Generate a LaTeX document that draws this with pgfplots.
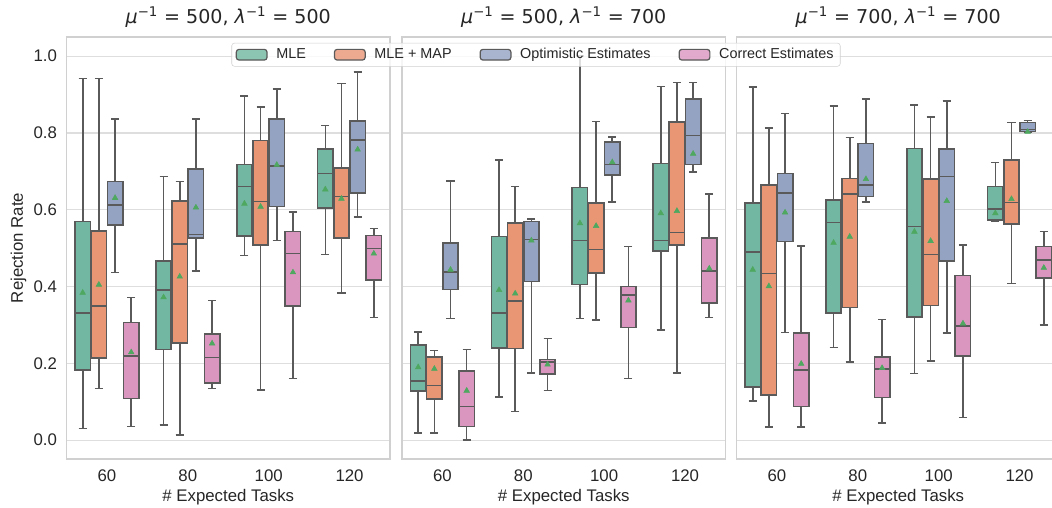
\documentclass[border=0pt]{standalone}
\usepackage{pgfplots}
\pgfplotsset{compat=1.18}
\usepgfplotslibrary{statistics}
\usepackage{fontspec}
\setmainfont{Liberation Sans}
\newfontfamily\dejavu{DejaVu Sans}

\definecolor{cg}{HTML}{71B7A1}
\definecolor{co}{HTML}{E99675}
\definecolor{cb}{HTML}{95A3C3}
\definecolor{cp}{HTML}{DB96C0}
\definecolor{lc}{HTML}{5A5A5A}
\definecolor{mc}{HTML}{4EA85F}
\definecolor{fc}{HTML}{D0D0D0}
\definecolor{gc}{HTML}{DEDEDE}
\definecolor{tc}{HTML}{262626}

\pgfplotsset{
 panel/.style={
   scale only axis, width=242.6pt, height=316.5pt, anchor=south west,
   xmin=-0.5, xmax=3.5, ymin=-0.049, ymax=1.05,
   xtick={0,1,2,3}, xticklabels={60,80,100,120},
   ytick={0,0.2,0.4,0.6,0.8,1},
   major tick length=0pt,
   ymajorgrids, grid style={gc, line width=0.8pt},
   axis line style={fc, line width=0.9pt},
   tick label style={font=\fontsize{12.6}{14}\selectfont, text=tc},
   xticklabel style={anchor=base, yshift=-17pt},
   yticklabel style={anchor=east, inner sep=0pt, xshift=-7pt},
   label style={font=\fontsize{12.6}{14}\selectfont, text=tc},
   xlabel style={at={(axis description cs:0.5,0)}, anchor=base, yshift=-31.5pt},
   ylabel style={at={(axis description cs:0,0.5)}, anchor=center, yshift=36pt},
   /pgf/number format/assume math mode=true,
   /pgf/number format/fixed, /pgf/number format/fixed zerofill, /pgf/number format/precision=1,
   xlabel={\# Expected Tasks},
   title style={at={(axis description cs:0.5,1)}, anchor=base, yshift=4.2pt, font=\dejavu\fontsize{14.3}{17}\selectfont, text=tc},
 },
 bx/.style={draw=lc, line width=1.2pt, solid, mark=none, forget plot},
 mn/.style={only marks, mark=triangle*, mark size=2.4pt, color=mc, forget plot},
}
\newcommand{\bx}[7]{\addplot[bx, fill=#2, boxplot prepared={draw direction=y, draw position=#1, lower whisker=#3, lower quartile=#4, median=#5, upper quartile=#6, upper whisker=#7, box extend=0.19, whisker extend=0.1, every box/.style={fill=#2, draw=lc, line width=1.2pt}, every whisker/.style={draw=lc, line width=1.2pt}, every median/.style={draw=lc, line width=1.2pt}}] coordinates {};}

\begin{document}
\begin{tikzpicture}
\path[use as bounding box, clip] (0,0) rectangle (789pt,380.25pt);

% Panel 1
\begin{axis}[panel, at={(49.9pt,36pt)}, ylabel={Rejection Rate},
  title={\textit{μ}\textsuperscript{−1} = 500, \textit{λ}\textsuperscript{−1} = 500}]
\bx{-0.3}{cg}{0.030}{0.183}{0.332}{0.569}{0.942}
\bx{-0.1}{co}{0.135}{0.214}{0.349}{0.544}{0.942}
\bx{0.1}{cb}{0.437}{0.561}{0.612}{0.674}{0.837}
\bx{0.3}{cp}{0.036}{0.109}{0.219}{0.306}{0.372}
\bx{0.7}{cg}{0.040}{0.236}{0.391}{0.467}{0.687}
\bx{0.9}{co}{0.014}{0.253}{0.511}{0.623}{0.674}
\bx{1.1}{cb}{0.440}{0.527}{0.536}{0.706}{0.836}
\bx{1.3}{cp}{0.135}{0.149}{0.215}{0.276}{0.364}
\bx{1.7}{cg}{0.481}{0.531}{0.661}{0.718}{0.896}
\bx{1.9}{co}{0.130}{0.508}{0.622}{0.780}{0.867}
\bx{2.1}{cb}{0.520}{0.609}{0.714}{0.836}{0.914}
\bx{2.3}{cp}{0.161}{0.349}{0.486}{0.543}{0.595}
\bx{2.7}{cg}{0.484}{0.605}{0.695}{0.759}{0.819}
\bx{2.9}{co}{0.384}{0.527}{0.635}{0.709}{0.929}
\bx{3.1}{cb}{0.581}{0.643}{0.782}{0.832}{0.959}
\bx{3.3}{cp}{0.319}{0.417}{0.499}{0.533}{0.551}
\addplot[mn] coordinates {(-0.3,0.384)(-0.1,0.405)(0.1,0.631)(0.3,0.229)(0.7,0.372)(0.9,0.426)(1.1,0.606)(1.3,0.252)(1.7,0.616)(1.9,0.608)(2.1,0.717)(2.3,0.437)(2.7,0.653)(2.9,0.629)(3.1,0.757)(3.3,0.486)};
\end{axis}

% Panel 2
\begin{axis}[panel, at={(301.5pt,36pt)}, yticklabels={},
  title={\textit{μ}\textsuperscript{−1} = 500, \textit{λ}\textsuperscript{−1} = 700}]
\bx{-0.3}{cg}{0.019}{0.128}{0.154}{0.248}{0.281}
\bx{-0.1}{co}{0.019}{0.108}{0.142}{0.217}{0.234}
\bx{0.1}{cb}{0.317}{0.392}{0.438}{0.513}{0.675}
\bx{0.3}{cp}{0.001}{0.036}{0.088}{0.180}{0.236}
\bx{0.7}{cg}{0.112}{0.240}{0.331}{0.530}{0.730}
\bx{0.9}{co}{0.075}{0.239}{0.363}{0.566}{0.661}
\bx{1.1}{cb}{0.175}{0.413}{0.523}{0.570}{0.576}
\bx{1.3}{cp}{0.129}{0.172}{0.204}{0.210}{0.265}
\bx{1.7}{cg}{0.317}{0.405}{0.520}{0.658}{1.000}
\bx{1.9}{co}{0.313}{0.436}{0.497}{0.618}{0.830}
\bx{2.1}{cb}{0.621}{0.691}{0.718}{0.776}{0.790}
\bx{2.3}{cp}{0.161}{0.293}{0.378}{0.400}{0.504}
\bx{2.7}{cg}{0.287}{0.493}{0.520}{0.721}{0.921}
\bx{2.9}{co}{0.175}{0.508}{0.541}{0.829}{0.931}
\bx{3.1}{cb}{0.698}{0.718}{0.793}{0.889}{0.931}
\bx{3.3}{cp}{0.320}{0.358}{0.440}{0.526}{0.641}
\addplot[mn] coordinates {(-0.3,0.190)(-0.1,0.186)(0.1,0.444)(0.3,0.129)(0.7,0.391)(0.9,0.382)(1.1,0.520)(1.3,0.197)(1.7,0.565)(1.9,0.558)(2.1,0.724)(2.3,0.364)(2.7,0.591)(2.9,0.597)(3.1,0.746)(3.3,0.447)};
\end{axis}

% Panel 3
\begin{axis}[panel, at={(552.4pt,36pt)}, yticklabels={},
  title={\textit{μ}\textsuperscript{−1} = 700, \textit{λ}\textsuperscript{−1} = 700},
  legend columns=4,
  legend style={at={(-0.62,0.986)}, anchor=north, draw=fc, fill=white, fill opacity=0.8, text opacity=1,
    rounded corners=2pt, font=\fontsize{10.8}{12}\selectfont, text=tc,
    /tikz/every odd column/.append style={column sep=4.5pt},
    /tikz/every even column/.append style={column sep=19pt}},
  legend image code/.code={\draw[#1, draw=lc, line width=0.9pt] (0pt,-4pt) rectangle (23pt,4pt);}]
\addlegendimage{fill=cg}\addlegendentry{MLE}
\addlegendimage{fill=co}\addlegendentry{MLE + MAP}
\addlegendimage{fill=cb}\addlegendentry{Optimistic Estimates}
\addlegendimage{fill=cp}\addlegendentry{Correct Estimates}
\bx{-0.3}{cg}{0.102}{0.138}{0.490}{0.617}{0.919}
\bx{-0.1}{co}{0.034}{0.118}{0.434}{0.664}{0.813}
\bx{0.1}{cb}{0.280}{0.517}{0.643}{0.695}{0.851}
\bx{0.3}{cp}{0.034}{0.088}{0.183}{0.279}{0.506}
\bx{0.7}{cg}{0.241}{0.331}{0.567}{0.625}{0.870}
\bx{0.9}{co}{0.204}{0.346}{0.641}{0.682}{0.788}
\bx{1.1}{cb}{0.621}{0.635}{0.664}{0.773}{0.889}
\bx{1.3}{cp}{0.044}{0.111}{0.185}{0.216}{0.314}
\bx{1.7}{cg}{0.174}{0.321}{0.556}{0.760}{0.873}
\bx{1.9}{co}{0.207}{0.351}{0.484}{0.680}{0.841}
\bx{2.1}{cb}{0.279}{0.467}{0.687}{0.758}{0.884}
\bx{2.3}{cp}{0.059}{0.220}{0.298}{0.429}{0.509}
\bx{2.7}{cg}{0.570}{0.573}{0.602}{0.661}{0.723}
\bx{2.9}{co}{0.408}{0.563}{0.619}{0.729}{0.827}
\bx{3.1}{cb}{0.802}{0.804}{0.809}{0.827}{0.833}
\bx{3.3}{cp}{0.300}{0.423}{0.470}{0.504}{0.543}
\addplot[mn] coordinates {(-0.3,0.444)(-0.1,0.401)(0.1,0.593)(0.3,0.199)(0.7,0.514)(0.9,0.530)(1.1,0.680)(1.3,0.188)(1.7,0.543)(1.9,0.519)(2.1,0.623)(2.3,0.304)(2.7,0.591)(2.9,0.628)(3.1,0.803)(3.3,0.449)};
\end{axis}
\end{tikzpicture}
\end{document}
